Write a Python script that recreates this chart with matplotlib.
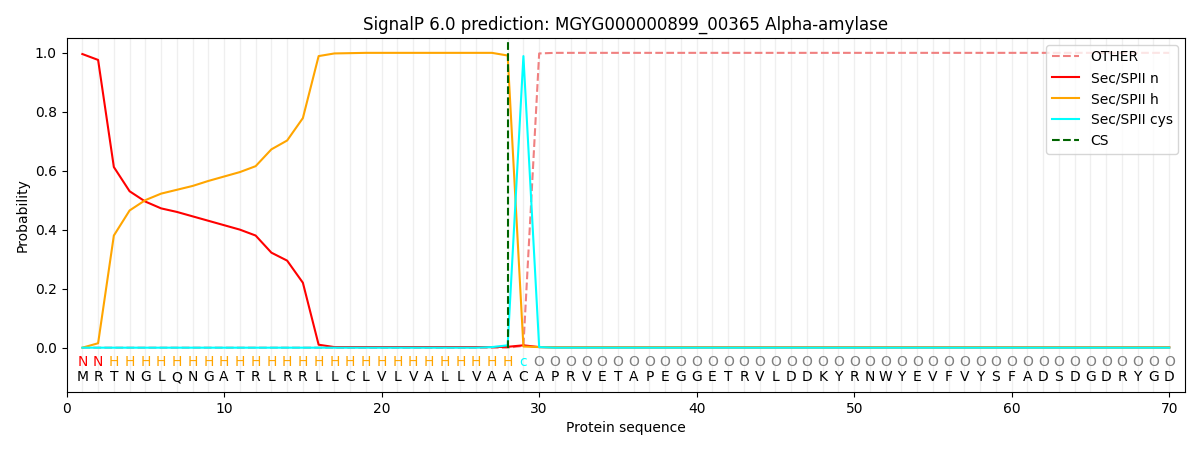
import matplotlib
matplotlib.use('Agg')
import matplotlib.pyplot as plt
import numpy as np

sequence = list("MRTNGLQNGATRLRRLLCLVLVALLVAACAPRVETAPEGGETRVLDDKYRNWYEVFVYSFADSDGDRYGD")
labels = list("NN" + "H" * 26 + "c" + "O" * 41)

# per-position probabilities, positions 1..70
sec_n = [0.995, 0.975, 0.612, 0.530, 0.495, 0.472, 0.460, 0.445, 0.430, 0.415,
         0.400, 0.380, 0.322, 0.295, 0.220, 0.010, 0.002, 0.002, 0.002, 0.002,
         0.002, 0.002, 0.002, 0.002, 0.002, 0.002, 0.002, 0.003, 0.008, 0.002] + [0.001] * 40
sec_h = [0.000, 0.015, 0.380, 0.465, 0.500, 0.522, 0.535, 0.548, 0.565, 0.580,
         0.595, 0.615, 0.672, 0.702, 0.778, 0.988, 0.997, 0.998, 0.999, 0.999,
         0.999, 0.999, 0.999, 0.999, 0.999, 0.999, 0.999, 0.990, 0.004, 0.002] + [0.001] * 40
sec_cys = [0.0] * 26 + [0.002, 0.008, 0.988, 0.002] + [0.0] * 40
other = [0.0] * 28 + [0.006, 0.997] + [0.999] * 40
cs_pos = 28

label_colors = {'N': 'red', 'H': 'orange', 'c': 'cyan', 'O': 'gray'}

pos = np.arange(1, len(sequence) + 1)

fig = plt.figure(figsize=(12, 4.5), dpi=100)
ax = fig.add_axes([0.0555, 0.129, 0.932, 0.787])

for p in pos:
    ax.axvline(p, color='#ececec', linewidth=1, alpha=0.8, zorder=0)

ax.plot(pos, other, color='lightcoral', linestyle='--', label='OTHER')
ax.plot(pos, sec_n, color='red', label='Sec/SPII n')
ax.plot(pos, sec_h, color='orange', label='Sec/SPII h')
ax.plot(pos, sec_cys, color='cyan', label='Sec/SPII cys')
ax.plot([cs_pos, cs_pos], [0, 1.035], color='darkgreen', linestyle='--', label='CS')

for p, aa, lab in zip(pos, sequence, labels):
    ax.text(p, -0.047, lab, color=label_colors[lab], ha='center', va='center', fontsize=10)
    ax.text(p, -0.10, aa, color='black', ha='center', va='center', fontsize=10)

ax.set_xlim(0, 71)
ax.set_ylim(-0.15, 1.05)
ax.set_xlabel('Protein sequence')
ax.set_ylabel('Probability')
ax.set_title('SignalP 6.0 prediction: MGYG000000899_00365 Alpha-amylase')
ax.legend(loc='upper right')

fig.savefig('out.png')
